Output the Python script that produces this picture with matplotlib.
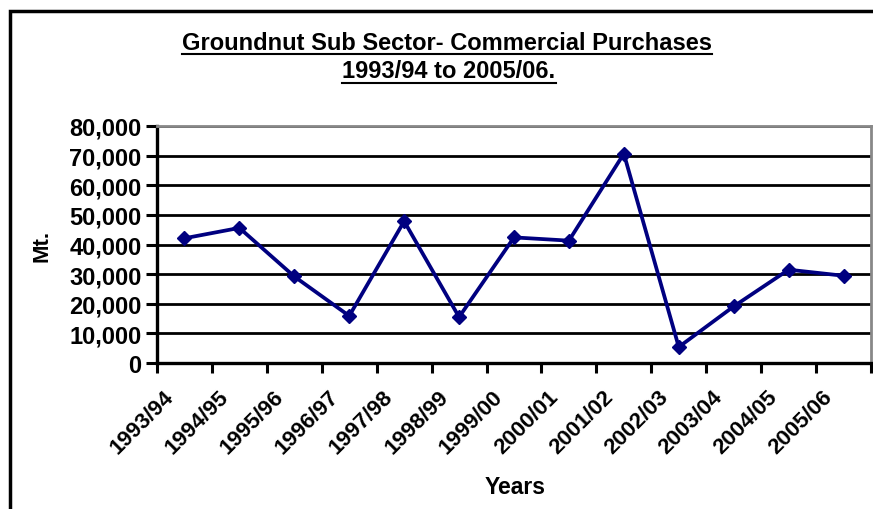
import matplotlib
matplotlib.use("Agg")
import matplotlib.pyplot as plt
from matplotlib.lines import Line2D
from matplotlib.ticker import FuncFormatter, FixedLocator
from matplotlib.transforms import ScaledTranslation

years = ["1993/94", "1994/95", "1995/96", "1996/97", "1997/98", "1998/99", "1999/00",
         "2000/01", "2001/02", "2002/03", "2003/04", "2004/05", "2005/06"]
purchases = [42100, 45600, 29200, 15900, 47850, 15500, 42400,
             41300, 70650, 5400, 19100, 31500, 29450]
y_ticks = [0, 10000, 20000, 30000, 40000, 50000, 60000, 70000, 80000]

title_lines = ["Groundnut Sub Sector- Commercial Purchases", "1993/94 to 2005/06."]

plt.rcParams['font.family'] = ['Liberation Sans', 'DejaVu Sans']
plt.rcParams['font.weight'] = 'bold'

W, H = 873, 510
fig = plt.figure(figsize=(W / 100, H / 100), dpi=100)

def fx(px):
    return px / W

def fy(py):
    return 1 - py / H

ax = fig.add_axes([fx(157), fy(364), fx(871) - fx(157), fy(127) - fy(364)])

x = list(range(len(years)))
ax.plot(x, purchases, color='#000080', lw=2.7, marker='D', markersize=7.5,
        markeredgecolor='#000080', markerfacecolor='#000080', zorder=5, clip_on=False)

ax.set_xlim(-0.5, len(years) - 0.5)
ax.set_ylim(0, 80000)
ax.set_yticks(y_ticks)
ax.yaxis.set_major_formatter(FuncFormatter(lambda v, p: f"{int(v):,}"))
ax.yaxis.grid(True, color='black', lw=2.0)
ax.set_axisbelow(True)

ax.xaxis.set_major_locator(FixedLocator([i - 0.5 for i in range(len(years) + 1)]))
ax.xaxis.set_minor_locator(FixedLocator(x))
ax.set_xticklabels([])
ax.tick_params(axis='x', which='major', direction='out', length=7, width=2.2, color='black')
ax.tick_params(axis='x', which='minor', length=0, pad=22, labelsize=16)
ax.set_xticklabels(years, minor=True, rotation=45, ha='right', va='center',
                   rotation_mode='anchor', fontsize=16, fontweight='bold')
ax.tick_params(axis='y', which='major', direction='out', length=8, width=2.2,
               labelsize=17, pad=3)
for lbl in ax.get_yticklabels():
    lbl.set_fontweight('bold')
off = ScaledTranslation(-14 / 100, 0, fig.dpi_scale_trans)
for lbl in ax.get_xticklabels(minor=True):
    lbl.set_transform(lbl.get_transform() + off)

for s in ['left', 'bottom']:
    ax.spines[s].set_color('black')
    ax.spines[s].set_linewidth(2.4)
for s in ['top', 'right']:
    ax.spines[s].set_color('#888888')
    ax.spines[s].set_linewidth(2.0)

fig.text(fx(42), fy(246), "Mt.", rotation=90, ha='center', va='center',
         fontsize=16, fontweight='bold')
fig.text(fx(515), fy(487), "Years", ha='center', va='center',
         fontsize=16.5, fontweight='bold')

t1 = fig.text(fx(447), fy(43), title_lines[0], ha='center', va='center',
              fontsize=17, fontweight='bold')
t2 = fig.text(fx(449), fy(72), title_lines[1], ha='center', va='center',
              fontsize=17, fontweight='bold')

# underline titles
fig.canvas.draw()
r = fig.canvas.get_renderer()
for t, uy in [(t1, 55), (t2, 84)]:
    bb = t.get_window_extent(r)
    fig.add_artist(Line2D([bb.x0 / W, bb.x1 / W], [fy(uy), fy(uy)],
                          transform=fig.transFigure, color='black', lw=1.5))

# outer frame (left & top edges visible)
fig.add_artist(Line2D([fx(10), fx(10), fx(880)], [fy(520), fy(12), fy(12)],
                      transform=fig.transFigure, color='black', lw=2.5,
                      solid_joinstyle='miter'))

fig.savefig("out.png", dpi=100)
